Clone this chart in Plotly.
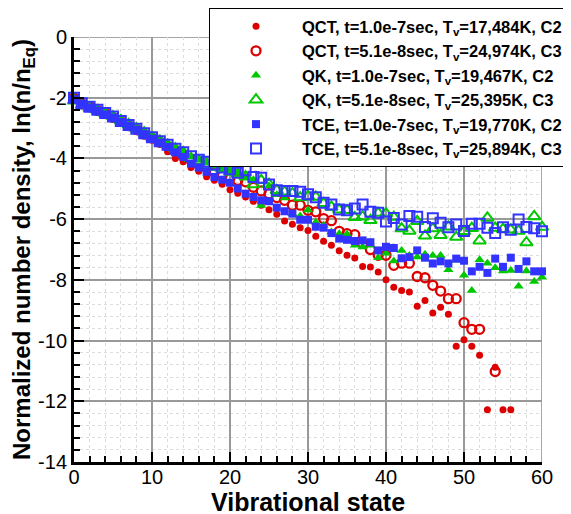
import plotly.graph_objects as go

v = list(range(61))

qct_c2 = [-1.93, -2.17, -2.27, -2.40, -2.50, -2.63, -2.78, -2.90, -3.05, -3.20,
          -3.35, -3.52, -3.78, -4.00, -4.11, -4.30, -4.42, -4.60, -4.72, -4.85,
          -5.03, -5.15, -5.27, -5.41, -5.54, -5.69, -5.84, -6.06, -6.17, -6.28,
          -6.37, -6.56, -6.73, -6.86, -7.04, -7.19, -7.28, -7.56, -7.58, -7.74,
          -8.00, -8.24, -8.35, -8.40, -8.87, -8.68, -9.09, -8.90, -9.13, -10.19,
          -9.97, -10.19, -10.48, -12.28, -10.88, -12.28, -12.28, None, None, None, None]

qct_c3 = [-2.02, -2.20, -2.30, -2.42, -2.52, -2.65, -2.78, -2.92, -3.05, -3.20,
          -3.33, -3.47, -3.60, -3.78, -3.90, -4.05, -4.20, -4.30, -4.45, -4.55,
          -4.65, -4.72, -4.77, -4.95, -5.07, -5.16, -5.29, -5.38, -5.54, -5.54,
          -5.71, -5.76, -5.98, -6.05, -6.40, -6.48, -6.51, -6.80, -7.00, -7.19,
          -7.19, -7.52, -7.45, -7.45, -7.89, -7.93, -8.18, -8.37, -8.62, -8.62,
          -9.41, -9.63, -9.63, None, -11.02, None, None, None, None, None, None]

qk_c2 = [-2.05, -2.22, -2.28, -2.38, -2.50, -2.60, -2.75, -2.88, -3.00, -3.15,
         -3.30, -3.42, -3.55, -3.68, -3.80, -3.95, -4.05, -4.15, -4.25, -4.35,
         -4.45, -4.50, -4.62, -4.70, -5.55, -4.90, -5.20, -5.30, -5.82, -5.90,
         -5.70, -6.10, -6.20, -6.42, -6.48, -6.50, -6.86, -6.92, -6.86, -7.27,
         -7.12, -7.38, -7.03, -7.20, -7.25, -7.16, -7.20, -7.20, -7.67, -7.35,
         -7.85, -8.35, -7.34, -7.45, -7.60, -7.71, -7.69, -8.21, -7.71, -8.05, -7.91]

qk_c3 = [-2.10, -2.25, -2.35, -2.42, -2.52, -2.62, -2.75, -2.88, -3.02, -3.15,
         -3.30, -3.42, -3.55, -3.68, -3.80, -4.00, -4.08, -4.18, -4.28, -4.35,
         -4.45, -4.52, -4.60, -4.86, -4.72, -4.85, -5.05, -5.10, -5.15, -5.29,
         -5.25, -5.27, -5.48, -5.60, -5.69, -5.71, -5.94, -5.92, -6.04, -5.80,
         -5.82, -5.93, -6.31, -6.39, -6.07, -6.55, -6.31, -6.53, -6.25, -6.59,
         -6.40, -6.30, -6.71, -5.96, -6.29, -6.33, -6.35, -6.39, -6.77, -5.91, -6.26]

tce_c2 = [-2.05, -2.20, -2.32, -2.42, -2.55, -2.65, -2.80, -2.92, -3.05, -3.20,
          -3.35, -3.48, -3.62, -3.80, -3.95, -4.17, -4.30, -4.44, -4.61, -4.70,
          -4.80, -4.99, -5.16, -5.27, -5.38, -5.41, -5.62, -5.74, -5.82, -6.02,
          -6.02, -6.25, -6.28, -6.46, -6.64, -6.68, -6.72, -6.70, -6.76, -7.03,
          -6.91, -6.95, -7.29, -7.25, -7.03, -7.27, -7.46, -7.39, -7.46, -7.30,
          -7.37, -7.72, -7.57, -7.77, -7.30, -7.57, -7.27, -7.64, -7.39, -7.72, -7.72]

tce_c3 = [-2.00, -2.18, -2.30, -2.40, -2.50, -2.62, -2.77, -2.90, -3.02, -3.17,
          -3.30, -3.43, -3.55, -3.68, -3.80, -3.93, -4.04, -4.11, -4.20, -4.30,
          -4.36, -4.47, -4.39, -4.61, -4.64, -4.86, -5.05, -5.07, -5.07, -5.10,
          -5.18, -5.28, -5.46, -5.52, -5.68, -5.71, -5.65, -5.52, -5.76, -5.79,
          -6.08, -5.96, -6.18, -5.90, -5.92, -6.26, -5.97, -6.12, -6.27, -6.18,
          -6.39, -6.15, -6.15, -6.28, -6.46, -6.27, -6.35, -6.01, -6.26, -6.30, -6.40]

names = [
    "QCT, t=1.0e-7sec, T<sub>v</sub>=17,484K, C2",
    "QCT, t=5.1e-8sec, T<sub>v</sub>=24,974K, C3",
    "QK, t=1.0e-7sec, T<sub>v</sub>=19,467K, C2",
    "QK, t=5.1e-8sec, T<sub>v</sub>=25,395K, C3",
    "TCE, t=1.0e-7sec, T<sub>v</sub>=19,770K, C2",
    "TCE, t=5.1e-8sec, T<sub>v</sub>=25,894K, C3",
]

x_title = "Vibrational state"
y_title = "Normalized number density, ln(n/n<sub>Eq</sub>)"

x_tickvals = [0, 10, 20, 30, 40, 50, 60]
x_ticktext = ["0", "10", "20", "30", "40", "50", "60"]
y_tickvals = [0, -2, -4, -6, -8, -10, -12, -14]
y_ticktext = ["0", "-2", "-4", "-6", "-8", "-10", "-12", "-14"]

RED = "#dd0000"
GREEN = "#00c800"
BLUE = "#3333ff"

styles = [
    dict(symbol="circle", size=7, color=RED),
    dict(symbol="circle-open", size=9, color=RED, line=dict(width=2.3, color=RED)),
    dict(symbol="triangle-up", size=9, color=GREEN),
    dict(symbol="triangle-up-open", size=11, color=GREEN, line=dict(width=2, color=GREEN)),
    dict(symbol="square", size=8, color=BLUE),
    dict(symbol="square-open", size=10, color=BLUE, line=dict(width=2, color=BLUE)),
]
series = [qct_c2, qct_c3, qk_c2, qk_c3, tce_c2, tce_c3]

fig = go.Figure()
for nm, ys, st in zip(names, series, styles):
    mk = dict(symbol=st["symbol"], size=st["size"], color=st["color"])
    if "line" in st:
        mk["line"] = st["line"]
    else:
        mk["line"] = dict(width=0)
    fig.add_trace(go.Scatter(x=v, y=ys, mode="markers", name=nm, marker=mk,
                             cliponaxis=False))

FONT = "Liberation Sans, Arial, Helvetica, sans-serif"

axis_common = dict(
    ticks="inside", ticklen=10, tickwidth=2, tickcolor="black",
    showline=True, linecolor="black", linewidth=3,
    showgrid=True, gridcolor="#999999", gridwidth=1.5,
    zeroline=False, automargin=False,
    tickfont=dict(family=FONT, size=20, color="black"),
)

fig.update_xaxes(
    range=[0, 60], tickvals=x_tickvals, ticktext=x_ticktext,
    ticklabelstandoff=-5,
    minor=dict(dtick=2, ticks="inside", ticklen=6, tickwidth=1.5, tickcolor="black",
               showgrid=True, gridcolor="#dddddd", griddash="dot", gridwidth=1),
    **axis_common,
)
fig.update_yaxes(
    range=[-14, 0], tickvals=y_tickvals, ticktext=y_ticktext,
    minor=dict(dtick=0.4, ticks="inside", ticklen=6, tickwidth=1.5, tickcolor="black",
               showgrid=True, gridcolor="#dddddd", griddash="dot", gridwidth=1),
    title=dict(text=y_title,
               font=dict(family=FONT, size=24, color="black", weight="bold"), standoff=4),
    **axis_common,
)

# x-axis title placed as a paper-anchored annotation just below the tick labels
fig.add_annotation(text=x_title, xref="paper", yref="paper", x=0.5, y=-0.095,
                   xanchor="center", yanchor="middle", showarrow=False,
                   font=dict(family=FONT, size=25, color="black", weight="bold"))

fig.add_shape(type="line", xref="x", yref="y", x0=0, x1=60, y0=0, y1=0,
              line=dict(color="#888888", width=1.5), layer="below")
fig.add_shape(type="line", xref="x", yref="y", x0=60, x1=60, y0=-14, y1=0,
              line=dict(color="#888888", width=1.5), layer="below")

# page body has an 8px default margin, so the figure is sized to fit the window
fig.update_layout(
    width=563, height=506,
    margin=dict(l=66, r=29, t=29, b=52, autoexpand=False),
    paper_bgcolor="white", plot_bgcolor="white",
    font=dict(family=FONT, color="black"),
    legend=dict(
        x=0.2885, y=1.068, xanchor="left", yanchor="top",
        bgcolor="white", bordercolor="black", borderwidth=1,
        font=dict(family=FONT, size=16.5, color="black", weight="bold"),
        itemwidth=82,
    ),
)

fig.write_html("out.html")
